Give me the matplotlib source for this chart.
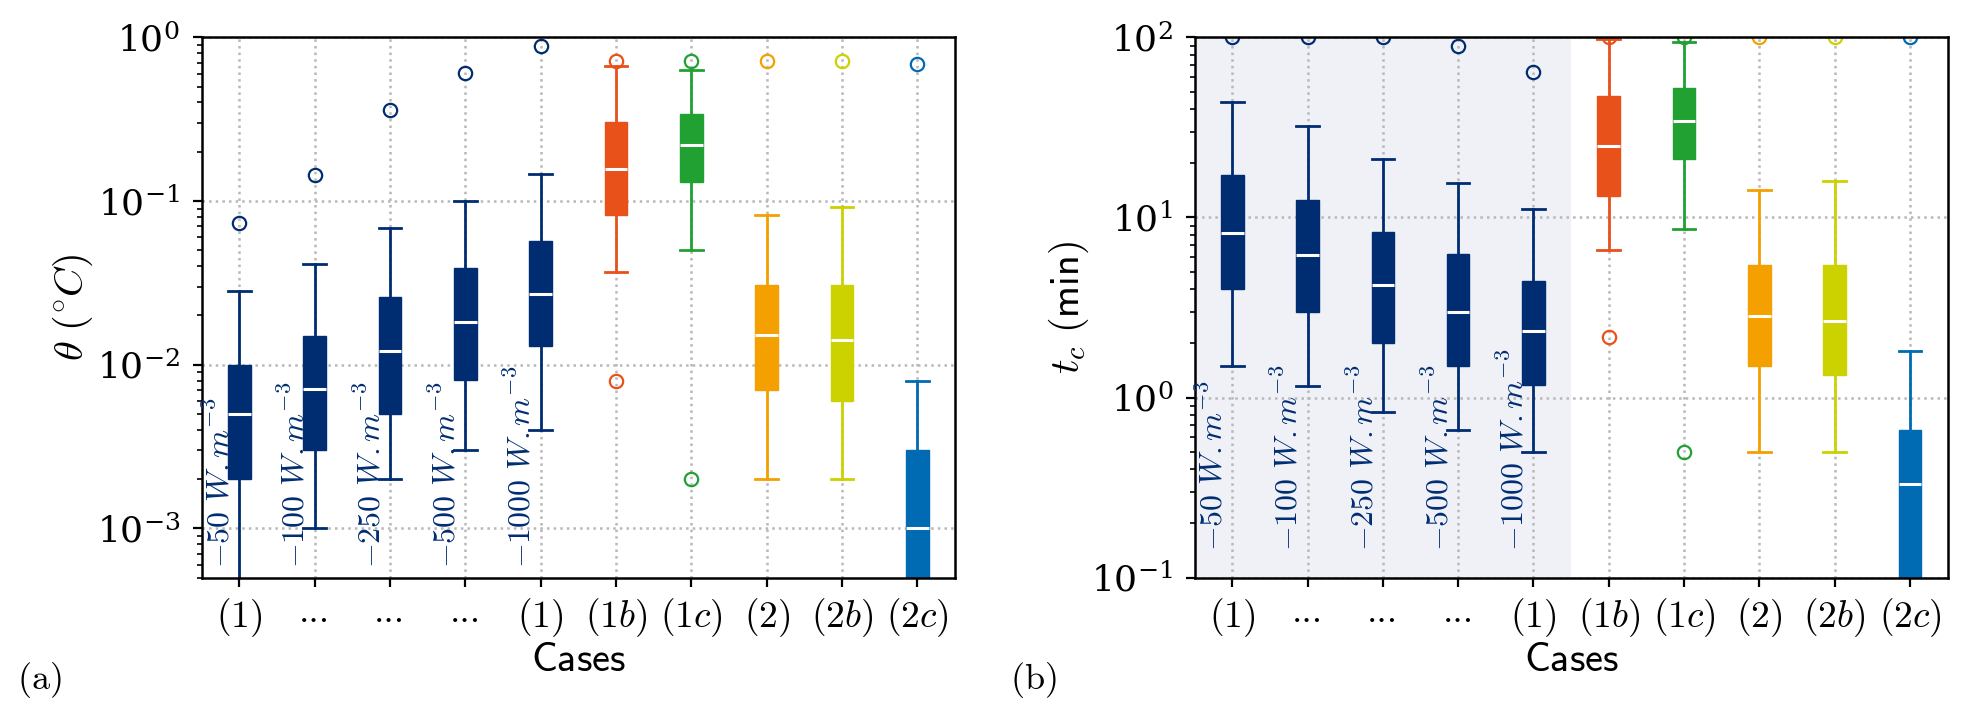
import matplotlib
matplotlib.use("Agg")
import matplotlib.pyplot as plt

plt.rcParams['mathtext.fontset'] = 'cm'
plt.rcParams['font.family'] = ['DejaVu Serif']

# categories
cases = [r"$(1)$", "...", "...", "...", r"$(1)$",
         r"$(1b)$", r"$(1c)$", r"$(2)$", r"$(2b)$", r"$(2c)$"]
flux_labels = [r"$-50\ W.m^{-3}$", r"$-100\ W.m^{-3}$", r"$-250\ W.m^{-3}$",
               r"$-500\ W.m^{-3}$", r"$-1000\ W.m^{-3}$"]
colors = ["#002d72"] * 5 + ["#e8511a", "#21a131", "#f4a000", "#ccd100", "#006ab3"]

# (a) theta (degC)
theta_whislo = [3e-4, 0.001, 0.002, 0.003, 0.004, 0.037, 0.05, 0.002, 0.002, 1e-4]
theta_q1 = [0.002, 0.003, 0.005, 0.0081, 0.013, 0.0827, 0.131, 0.007, 0.006, 3e-4]
theta_med = [0.005, 0.0071, 0.0122, 0.0183, 0.0272, 0.158, 0.22, 0.0151, 0.0141, 0.001]
theta_q3 = [0.01, 0.0149, 0.0259, 0.0388, 0.0566, 0.303, 0.342, 0.0308, 0.0308, 0.003]
theta_whishi = [0.0283, 0.0413, 0.0687, 0.1, 0.147, 0.667, 0.634, 0.0822, 0.0925, 0.008]
theta_fliers = [[0.073], [0.144], [0.358], [0.606], [0.88],
                [0.72, 0.008], [0.72, 0.002], [0.72], [0.72], [0.684]]

# (b) t_c (min)
tc_whislo = [1.49, 1.16, 0.83, 0.66, 0.5, 6.6, 8.65, 0.5, 0.5, 0.02]
tc_q1 = [4.0, 3.0, 2.0, 1.5, 1.17, 13.2, 21.2, 1.5, 1.33, 0.05]
tc_med = [8.16, 6.17, 4.19, 3.0, 2.34, 24.8, 34.3, 2.83, 2.65, 0.332]
tc_q3 = [17.1, 12.5, 8.35, 6.27, 4.44, 47.0, 52.2, 5.45, 5.45, 0.658]
tc_whishi = [43.8, 32.3, 21.1, 15.5, 11.1, 98.0, 94.4, 14.2, 16.0, 1.81]
tc_fliers = [[100], [100], [100], [90], [64.5],
             [100, 2.16], [100, 0.5], [100], [100], [100]]


def make_stats(lo, q1, med, q3, hi, fl):
    return [dict(whislo=a, q1=b, med=c, q3=d, whishi=e, fliers=f)
            for a, b, c, d, e, f in zip(lo, q1, med, q3, hi, fl)]


def draw_panel(ax, stats, ylim, label_y):
    ax.set_axisbelow(True)
    res = ax.bxp(stats, positions=range(1, 11), widths=0.3, capwidths=0.3,
                 patch_artist=True,
                 boxprops=dict(linewidth=0.5),
                 whiskerprops=dict(linewidth=1.0),
                 capprops=dict(linewidth=1.0),
                 medianprops=dict(color="white", linewidth=1.1),
                 flierprops=dict(marker="o", markerfacecolor="none",
                                 markersize=4.8, markeredgewidth=0.8))
    for i, c in enumerate(colors):
        res['boxes'][i].set_facecolor(c)
        res['boxes'][i].set_edgecolor(c)
        for ln in res['whiskers'][2 * i:2 * i + 2] + res['caps'][2 * i:2 * i + 2]:
            ln.set_color(c)
        res['fliers'][i].set_markeredgecolor(c)
    ax.set_yscale("log")
    ax.set_ylim(*ylim)
    ax.set_xlim(0.5, 10.5)
    ax.set_xticks(range(1, 11))
    ax.set_xticklabels(cases)
    for lab in ax.get_xticklabels():
        if lab.get_text() == "...":
            lab.set_fontfamily("cmr10")
    ax.grid(True, which="major", linestyle=":", color="#b8b8b8", linewidth=0.9)
    ax.tick_params(axis="x", which="major", labelsize=13.5, length=3.2, width=0.8)
    ax.tick_params(axis="y", which="major", labelsize=13, length=3.2, width=0.8, pad=4.5)
    ax.tick_params(axis="y", which="minor", length=1.8, width=0.6)
    for s in ax.spines.values():
        s.set_linewidth(0.9)
    # heat flux labels, written upwards next to the first five boxes
    for i, t in enumerate(flux_labels):
        ax.text(i + 1 - 0.04, label_y, t, rotation=90, ha="right", va="bottom",
                color=colors[i], fontsize=11.5, transform=ax.get_xaxis_transform())
    ax.set_xlabel(r"$\mathsf{Cases}$", fontsize=14.5, labelpad=1)


fig = plt.figure(figsize=(9.84, 3.58), dpi=200)
ax1 = fig.add_axes([0.1024, 0.1933, 0.3829, 0.7545])
ax2 = fig.add_axes([0.607, 0.1933, 0.3826, 0.7545])

draw_panel(ax1, make_stats(theta_whislo, theta_q1, theta_med, theta_q3,
                           theta_whishi, theta_fliers), (5e-4, 1), 0.018)
ax1.set_ylabel(r"$\theta\ (^{\circ}C)$", fontsize=14.5)
ax1.yaxis.set_label_coords(-0.141, 0.5)

ax2.axvspan(0.5, 5.5, color="#f0f1f7", zorder=0, linewidth=0)
draw_panel(ax2, make_stats(tc_whislo, tc_q1, tc_med, tc_q3,
                           tc_whishi, tc_fliers), (0.1, 100), 0.05)
ax2.set_ylabel(r"$t_c\ \mathsf{(min)}$", fontsize=14.5)
ax2.yaxis.set_label_coords(-0.138, 0.5)

fig.text(0.0086, 0.05, r"$\mathrm{(a)}$", fontsize=13, va="center")
fig.text(0.513, 0.05, r"$\mathrm{(b)}$", fontsize=13, va="center")

fig.savefig("out.png", dpi=200)
